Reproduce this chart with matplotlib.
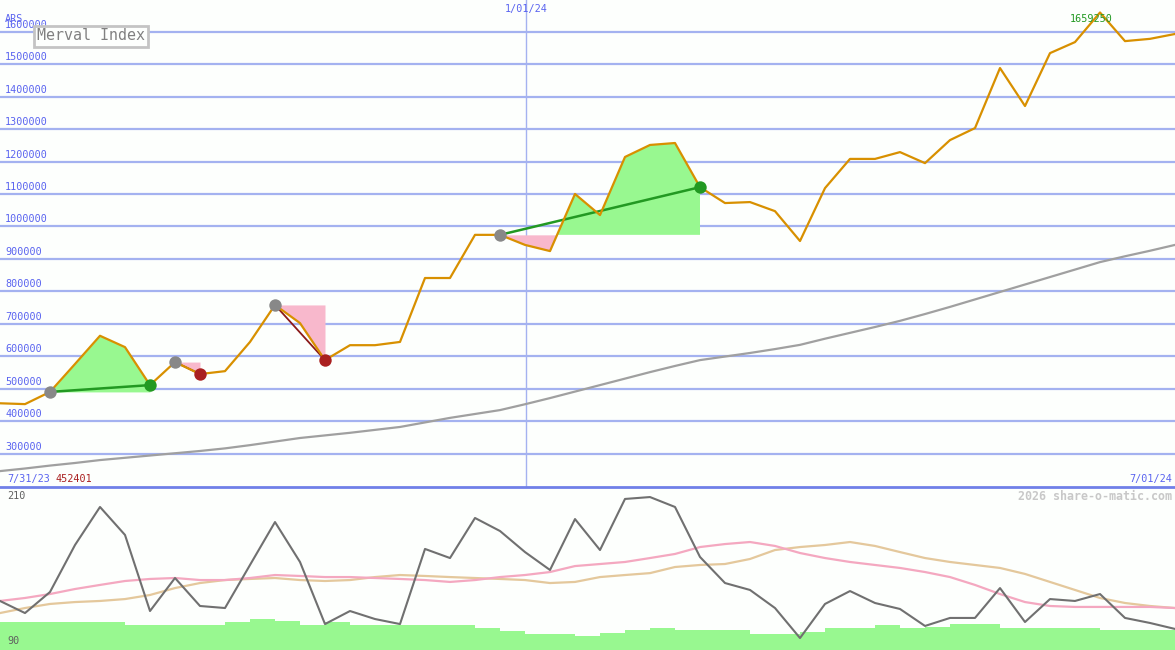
import numpy as np
import matplotlib
matplotlib.use("Agg")
import matplotlib.pyplot as plt

# weekly closes, 7/31/23 .. 7/01/24
price = [455000, 452401, 490000, 576000, 663000, 628000, 511000, 582000,
         545000, 554000, 644000, 758000, 702000, 588000, 634000, 634000,
         644000, 841000, 841000, 974000, 974000, 943000, 924000, 1100000,
         1035000, 1214000, 1251000, 1257000, 1121000, 1072000, 1075000, 1047000,
         955000, 1118000, 1208000, 1208000, 1229000, 1195000, 1266000, 1303000,
         1488000, 1371000, 1534000, 1568000, 1659250, 1571000, 1578000, 1593000]
long_ma = [246000, 254000, 263000, 271000, 280000, 287000, 294000, 301000,
           308000, 316000, 326000, 337000, 348000, 356000, 364000, 373000,
           382000, 396000, 410000, 422000, 434000, 452000, 471000, 491000,
           511000, 531000, 551000, 570000, 588000, 599000, 610000, 622000,
           635000, 654000, 672000, 690000, 709000, 730000, 752000, 775000,
           798000, 821000, 844000, 867000, 890000, 908000, 925000, 943000]

# lower panel
osc = [126.1, 117.2, 132.7, 167.3, 195.3, 174.7, 118.7, 143.0, 122.4, 120.9,
       152.6, 184.2, 154.8, 109.1, 118.7, 112.8, 109.1, 164.4, 157.7, 187.2,
       177.6, 162.1, 148.9, 186.4, 163.6, 201.2, 202.6, 195.3, 158.5, 139.3,
       134.2, 120.9, 98.8, 123.9, 133.4, 124.6, 120.2, 107.7, 113.6, 113.6,
       135.6, 110.6, 127.5, 126.1, 131.2, 113.6, 109.9, 105.5]
osc_fast = [126.1, 128.3, 131.2, 134.9, 137.9, 140.8, 142.3, 143.0, 141.5, 141.5,
            143.0, 145.2, 144.5, 143.7, 143.7, 143.0, 142.3, 141.5, 140.1, 141.5,
            143.7, 145.2, 147.4, 151.8, 153.3, 154.8, 157.7, 160.7, 165.8, 168.0,
            169.5, 166.6, 161.4, 157.7, 154.8, 152.6, 150.4, 147.4, 143.7, 137.9,
            131.2, 125.3, 122.4, 121.7, 121.7, 121.7, 121.7, 120.9]
osc_slow = [117.2, 120.9, 123.9, 125.3, 126.1, 127.5, 130.5, 135.6, 139.3, 141.5,
            142.3, 143.0, 141.5, 140.8, 141.5, 143.7, 145.2, 144.5, 143.7, 143.0,
            142.3, 141.5, 139.3, 140.1, 143.7, 145.2, 146.6, 151.1, 152.6, 153.3,
            157.0, 163.6, 165.8, 167.3, 169.5, 166.6, 162.1, 157.7, 154.8, 152.6,
            150.4, 146.0, 140.1, 134.2, 128.3, 124.6, 122.4, 120.9]
vol = [110.6, 110.6, 110.6, 110.6, 110.6, 108.4, 108.4, 108.4, 108.4, 110.6,
       112.8, 111.3, 108.4, 110.6, 108.4, 108.4, 108.4, 108.4, 108.4, 106.2,
       104.0, 101.8, 101.8, 100.3, 102.5, 104.7, 106.2, 104.7, 104.7, 104.7,
       101.8, 101.8, 103.3, 106.2, 106.2, 108.4, 106.2, 106.9, 109.1, 109.1,
       106.2, 106.2, 106.2, 106.2, 104.7, 104.7, 104.7, 104.7]

# signal trades (start index, end index)
signals = [(2, 6), (7, 8), (11, 13), (20, 28)]
grid_levels = [300000, 400000, 500000, 600000, 700000, 800000, 900000, 1000000,
               1100000, 1200000, 1300000, 1400000, 1500000, 1600000]
year_mark = 21.04   # 1/01/24

W, H = 1175, 650
fig = plt.figure(figsize=(W / 100, H / 100), dpi=100)
fig.patch.set_facecolor('#fdfffd')
mono = 'DejaVu Sans Mono'
blue_txt = '#5a64f0'
grid_c = '#a4b2f0'

def fx(px):
    return px / W

def fy(py):
    return 1 - py / H

# ---- top panel
ax = fig.add_axes([0, fy(487), 1, 487 / H])
ax.set_facecolor('#fdfffd')
x = np.arange(len(price))
ax.set_xlim(0, len(price) - 1)
ax.set_ylim(197000, 1697700)
for s in ax.spines.values():
    s.set_visible(False)
ax.set_xticks([]); ax.set_yticks([])

for lv in grid_levels:
    ax.axhline(lv, color=grid_c, lw=1.6, zorder=1)
    ax.annotate(str(lv), (0, lv), xycoords=('axes fraction', 'data'),
                xytext=(5, 2), textcoords='offset pixels', fontsize=7.3,
                family=mono, color=blue_txt, va='bottom', ha='left', zorder=6)
ax.axvline(year_mark, color=grid_c, lw=1, zorder=1)

ax.plot(x, long_ma, color='#a0a0a0', lw=1.6, zorder=3)

p = np.array(price, dtype=float)
for s, e in signals:
    xs = x[s:e + 1]
    ys = p[s:e + 1]
    base = p[s]
    ax.fill_between(xs, base, ys, where=ys >= base, interpolate=True,
                    color='#98f890', lw=0, zorder=2)
    ax.fill_between(xs, base, ys, where=ys <= base, interpolate=True,
                    color='#f8b8cc', lw=0, zorder=2)
    win = p[e] > base
    ax.plot([s, e], [base, p[e]], color='#229922' if win else '#8b1a1a',
            lw=1.8 if win else 1.3, zorder=4)

ax.plot(x, price, color='#d89000', lw=1.6, zorder=5)

for s, e in signals:
    win = p[e] > p[s]
    ax.scatter([s], [p[s]], s=80, color='#888888', zorder=7, lw=0)
    ax.scatter([e], [p[e]], s=80, color='#229922' if win else '#aa2020',
               zorder=7, lw=0)

imax = int(np.argmax(p))
ax.annotate(str(price[imax]), (imax, p[imax]), xytext=(-9, -7),
            textcoords='offset pixels', fontsize=7.3, family=mono,
            color='#229922', ha='center', va='center', zorder=8)

# ---- bottom panel
bx = fig.add_axes([0, 0, 1, 163 / H])
bx.set_facecolor('#fdfffd')
bx.set_xlim(0, len(price) - 1)
bx.set_ylim(90, 210)
for s in bx.spines.values():
    s.set_visible(False)
bx.set_xticks([]); bx.set_yticks([])
bx.bar(x, np.array(vol) - 90, bottom=90, width=1.0, align='edge',
       color='#98f890', lw=0, zorder=1)
bx.plot(x, osc_slow, color='#e4c89c', lw=1.6, zorder=2)
bx.plot(x, osc_fast, color='#f4a8c0', lw=1.6, zorder=2)
bx.plot(x, osc, color='#707070', lw=1.5, zorder=3)

# separator
fig.add_artist(plt.Line2D([0, 1], [fy(487), fy(487)], color='#7080e8', lw=2))

# texts
fig.text(fx(5), fy(19), 'ARS', fontsize=7.3, family=mono, color=blue_txt,
         va='center', ha='left')
fig.text(fx(37), fy(36), 'Merval Index', fontsize=10.8, family=mono,
         color='#808080', va='center', ha='left',
         bbox=dict(boxstyle='square,pad=0.2', fc='#fdfffd', ec='#c4c4c4', lw=2))
fig.text(fx(526), fy(9), '1/01/24', fontsize=7.3, family=mono, color=blue_txt,
         va='center', ha='center')
fig.text(fx(7), fy(479), '7/31/23', fontsize=7.3, family=mono, color=blue_txt,
         va='center', ha='left')
fig.text(fx(55), fy(479), str(min(price)), fontsize=7.3, family=mono,
         color='#aa2020', va='center', ha='left')
fig.text(fx(1172), fy(479), '7/01/24', fontsize=7.3, family=mono,
         color=blue_txt, va='center', ha='right')
fig.text(fx(1172), fy(496), '2026 share-o-matic.com', fontsize=8.4,
         family=mono, weight='bold', color='#c8c8c8', va='center', ha='right')
fig.text(fx(7), fy(496), '210', fontsize=7.3, family=mono, color='#606060',
         va='center', ha='left')
fig.text(fx(7), fy(641), '90', fontsize=7.3, family=mono, color='#606060',
         va='center', ha='left')

fig.savefig('out.png', dpi=100, facecolor=fig.get_facecolor())
